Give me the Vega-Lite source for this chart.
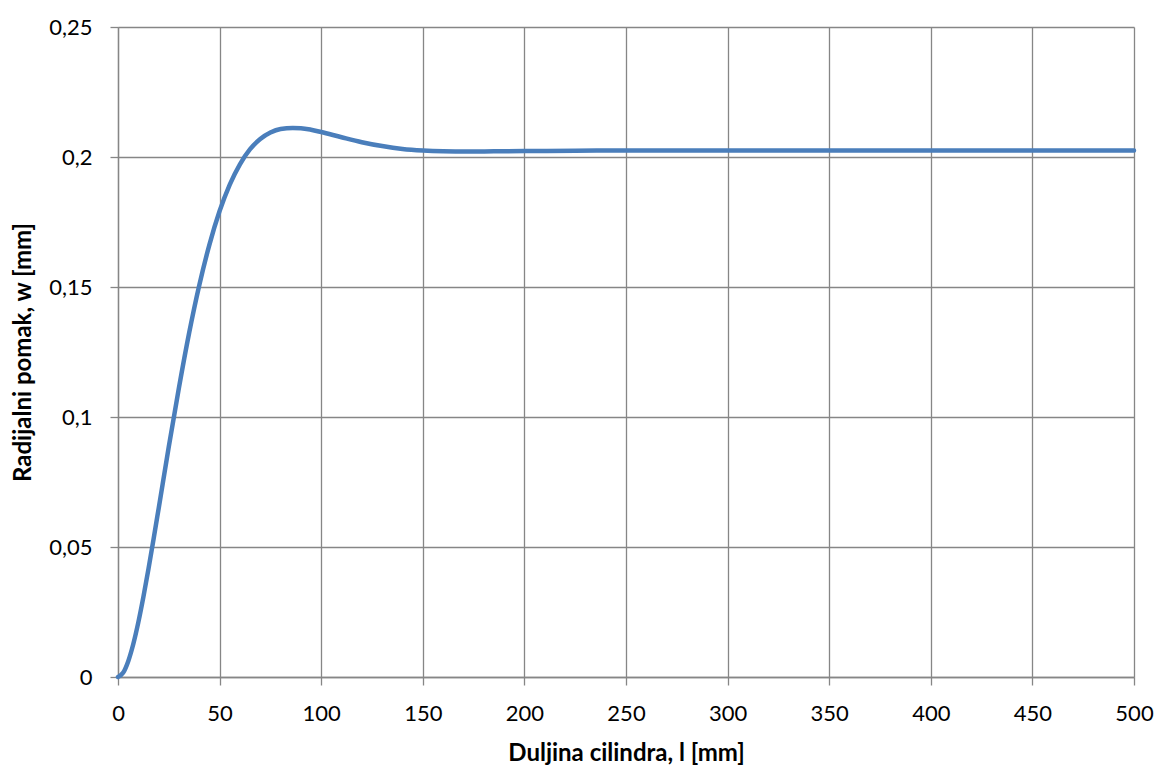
{
  "$schema": "https://vega.github.io/schema/vega-lite/v6.json",
  "autosize": "none",
  "width": 1016,
  "height": 650,
  "padding": {"left": 118, "top": 27, "right": 22, "bottom": 88},
  "background": "white",
  "config": {
    "view": {"stroke": null},
    "font": "Lato",
    "axis": {
      "labelFont": "Lato",
      "labelFontSize": 22,
      "labelColor": "#000000",
      "titleFont": "Lato",
      "titleFontSize": 24,
      "titleFontWeight": "bold",
      "titleColor": "#000000",
      "gridColor": "#868686",
      "gridWidth": 1.3,
      "gridOpacity": 1,
      "domainColor": "#868686",
      "domainWidth": 1.3,
      "tickColor": "#868686",
      "tickWidth": 1.3,
      "tickSize": 8
    }
  },
  "data": {
    "values": [
      {"l": 0, "w": 0},
      {"l": 2.5, "w": 0.0016},
      {"l": 5, "w": 0.006},
      {"l": 7.5, "w": 0.0126},
      {"l": 10, "w": 0.021},
      {"l": 12.5, "w": 0.0308},
      {"l": 15, "w": 0.0416},
      {"l": 17.5, "w": 0.053},
      {"l": 20, "w": 0.0648},
      {"l": 25, "w": 0.0886},
      {"l": 30, "w": 0.1113},
      {"l": 35, "w": 0.1323},
      {"l": 40, "w": 0.1507},
      {"l": 45, "w": 0.1663},
      {"l": 50, "w": 0.1792},
      {"l": 55, "w": 0.1894},
      {"l": 60, "w": 0.1972},
      {"l": 65, "w": 0.203},
      {"l": 70, "w": 0.2069},
      {"l": 75, "w": 0.2094},
      {"l": 80, "w": 0.2108},
      {"l": 86, "w": 0.2112},
      {"l": 90, "w": 0.2111},
      {"l": 95, "w": 0.2105},
      {"l": 100, "w": 0.2096},
      {"l": 110, "w": 0.2076},
      {"l": 120, "w": 0.2057},
      {"l": 130, "w": 0.2042},
      {"l": 140, "w": 0.2031},
      {"l": 150, "w": 0.2025},
      {"l": 160, "w": 0.2022},
      {"l": 172, "w": 0.2021},
      {"l": 185, "w": 0.2022},
      {"l": 200, "w": 0.2023},
      {"l": 225, "w": 0.2024},
      {"l": 250, "w": 0.2025},
      {"l": 300, "w": 0.2025},
      {"l": 350, "w": 0.2025},
      {"l": 400, "w": 0.2025},
      {"l": 450, "w": 0.2025},
      {"l": 500, "w": 0.2025}
    ]
  },
  "mark": {"type": "line", "color": "#4a7ebb", "strokeWidth": 4.5, "interpolate": "monotone", "strokeCap": "round", "clip": false},
  "encoding": {
    "x": {
      "field": "l",
      "type": "quantitative",
      "scale": {"domain": [0, 500], "nice": false, "zero": true},
      "axis": {
        "values": [0, 50, 100, 150, 200, 250, 300, 350, 400, 450, 500],
        "labelPadding": 18,
        "labelBaseline": "top",
        "title": "Duljina cilindra, l [mm]",
        "titleBaseline": "alphabetic",
        "titleY": 83,
        "labelFlush": false
      }
    },
    "y": {
      "field": "w",
      "type": "quantitative",
      "scale": {"domain": [0, 0.25], "nice": false},
      "axis": {
        "values": [0, 0.05, 0.1, 0.15, 0.2, 0.25],
        "labelExpr": "replace(toString(datum.value), '.', ',')",
        "labelPadding": 18,
        "title": "Radijalni pomak, w [mm]",
        "titleBaseline": "alphabetic",
        "titleX": -88,
        "titleAngle": -90,
        "labelFlush": false
      }
    }
  }
}
